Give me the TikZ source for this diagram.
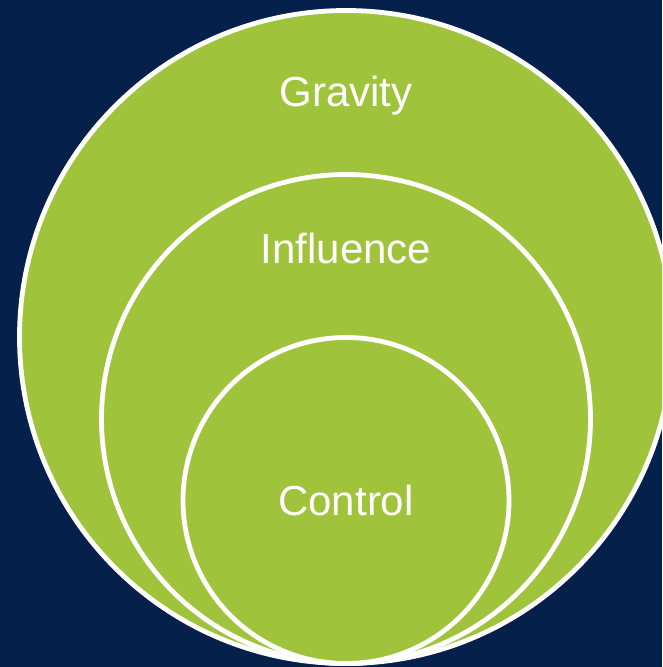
\documentclass[tikz,border=0pt]{standalone}
\usepackage{fontspec}
\setmainfont{Liberation Sans}
\usepackage{tikz}
\usetikzlibrary{shadows}
\definecolor{navy}{HTML}{05204A}
\definecolor{leaf}{HTML}{A0C33C}
\tikzset{
  % ringar
  ring/.style={circle,draw=white,fill=leaf,line width=3.6pt,inner sep=0pt,
               drop shadow={shadow xshift=0.8pt,shadow yshift=-1.6pt,opacity=0.3}},
  rl/.style={text=white,font=\fontsize{31.5}{36}\selectfont,anchor=base,inner sep=0pt},
}
\begin{document}
\begin{tikzpicture}[x=0.75pt,y=-0.75pt]
  \useasboundingbox (0,0) rectangle (662,667);
  \fill[navy] (0,0) rectangle (662,667);
  \clip (0,0) rectangle (662,667);
  \node[ring,minimum size=653*0.75pt] (gravity) at (346,337) {};
  \node[ring,minimum size=489*0.75pt] (influence) at (346,419) {};
  \node[ring,minimum size=326*0.75pt] (control) at (346,500.5) {};
  \node[rl] (gravitytxt) at (346,106) {Gravity};
  \node[rl] (influencetxt) at (346,263) {Influence};
  \node[rl] (controltxt) at (346,515) {Control};
\end{tikzpicture}
\end{document}
